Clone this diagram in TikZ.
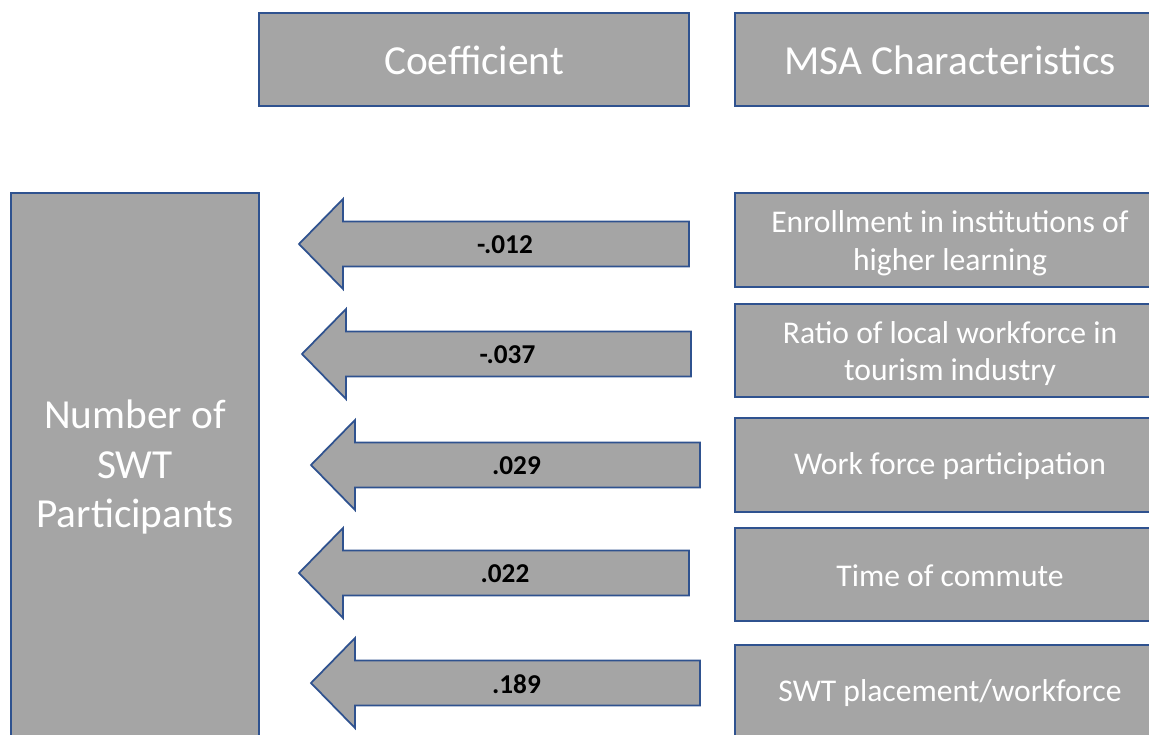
\documentclass[tikz,border=0pt]{standalone}
\usepackage{fontspec}
\setmainfont{Carlito}
\usepackage{tikz}
\definecolor{boxgray}{HTML}{A5A5A5}
\definecolor{boxblue}{HTML}{2F528F}

\begin{document}
\begin{tikzpicture}[x=0.2mm,y=0.2mm]
\tikzstyle{box}=[draw=boxblue,fill=boxgray,line width=1pt]
\tikzstyle{headtext}=[text=white,font=\fontsize{23.5}{28}\selectfont,align=center]
\tikzstyle{chartext}=[text=white,font=\fontsize{18}{21.5}\selectfont,align=center]
\tikzstyle{coeftext}=[text=black,font=\bfseries\fontsize{15.5}{18}\selectfont]
\useasboundingbox (0,0) rectangle (1149,-734);
% column heads
\draw [box] (259,-13) rectangle (689,-106);
\node (coef) [headtext] at (474,-60) {Coefficient};
\draw [box] (735,-13) rectangle (1165,-106);
\node (msa) [headtext] at (950,-60) {MSA Characteristics};
% outcome
\draw [box] (11,-193) rectangle (259,-738);
\node (swt) [headtext] at (135,-467) {Number of\\SWT\\Participants};
% characteristics
\draw [box] (735,-193) rectangle (1165,-287);
\node (char1) [chartext] at (950,-243) {Enrollment in institutions of\\higher learning};
\draw [box] (735,-304) rectangle (1165,-397);
\node (char2) [chartext] at (950,-353.5) {Ratio of local workforce in\\tourism industry};
\draw [box] (735,-418) rectangle (1165,-512);
\node (char3) [chartext] at (950,-466) {Work force participation};
\draw [box] (735,-528) rectangle (1165,-621);
\node (char4) [chartext] at (950,-575.5) {Time of commute};
\draw [box] (735,-645) rectangle (1165,-740);
\node (char5) [chartext] at (950,-693) {SWT placement/workforce};
% block arrows: tip x / y / tail x / coefficient
\foreach \tx/\y/\tl/\c [count=\i] in {299/244/689/-.012, 302/354/691/-.037,
    311/465/700/.029, 299/573/689/.022, 311/683/700/.189} {
  \draw [box,line join=miter] (\tx,-\y) -- (\tx+44,-\y+45) -- (\tx+44,-\y+22.5)
    -- (\tl,-\y+22.5) -- (\tl,-\y-22.5) -- (\tx+44,-\y-22.5) -- (\tx+44,-\y-45) -- cycle;
  \node (c\i) [coeftext] at ({(\tx+\tl)/2+11},-\y-1) {\c};
}
\end{tikzpicture}
\end{document}
